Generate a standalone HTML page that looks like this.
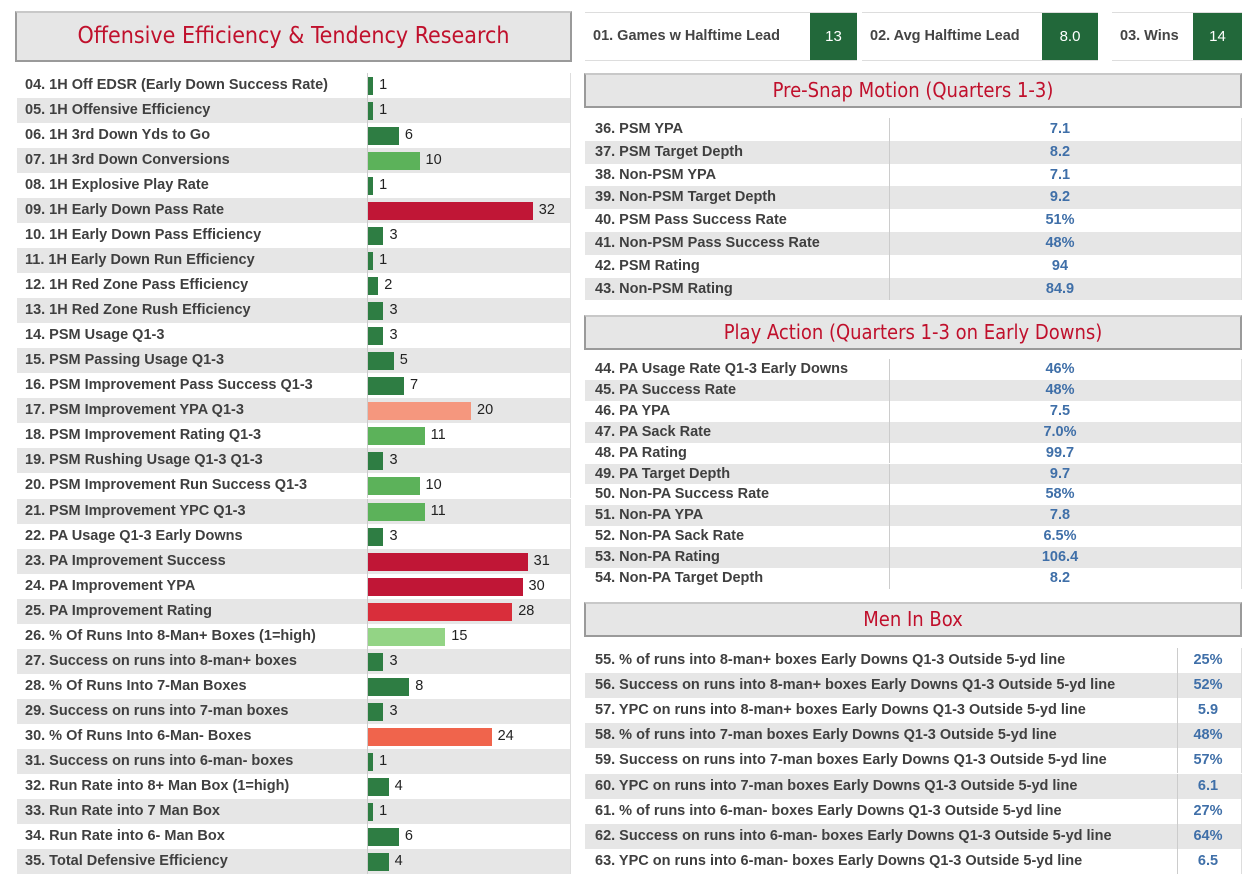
<!DOCTYPE html>
<html><head><meta charset="utf-8"><style>
*{box-sizing:border-box;margin:0;padding:0}
body{width:1254px;height:880px;background:#fff;font-family:"Liberation Sans",sans-serif;position:relative;overflow:hidden;color:#3f3f3f}
.abs{position:absolute}
.hdr{position:absolute;background:#e6e6e6;border:2px solid #9a9a9a;border-top-color:#c8c8c8;color:#c0102c;text-align:center;font-family:"DejaVu Sans Condensed","DejaVu Sans",sans-serif}
.row{position:absolute;font-weight:bold;font-size:14.5px;white-space:nowrap}
.kpi{position:absolute;top:12px;height:49px;border-top:1px solid #ddd;border-bottom:1px solid #ddd;font-weight:bold;font-size:14.5px;color:#444}
.kv{position:absolute;top:0;height:47px;background:#22683a;color:#fff;font-weight:normal;font-size:15px;text-align:center;line-height:47px}
.val{color:#3f6fa8;position:absolute;text-align:center}
</style></head><body>
<div class="hdr" style="left:15px;top:11px;width:557px;height:51px;font-size:23px;line-height:47px">Offensive Efficiency &amp; Tendency Research</div>

<div class="kpi" style="left:585px;width:272px"><span class="abs" style="left:8px;top:15px">01. Games w Halftime Lead</span><div class="kv" style="left:225px;width:47px">13</div></div>
<div class="kpi" style="left:862px;width:236px"><span class="abs" style="left:8px;top:15px">02. Avg Halftime Lead</span><div class="kv" style="left:180px;width:56px">8.0</div></div>
<div class="kpi" style="left:1112px;width:130px"><span class="abs" style="left:8px;top:15px">03. Wins</span><div class="kv" style="left:81px;width:49px">14</div></div>

<div id="left"></div>

<div class="hdr" style="left:584px;top:73px;width:658px;height:35px;font-size:20px;line-height:31px">Pre-Snap Motion (Quarters 1-3)</div>
<div id="psm"></div>
<div class="hdr" style="left:584px;top:315px;width:658px;height:35px;font-size:20px;line-height:31px">Play Action (Quarters 1-3 on Early Downs)</div>
<div id="pa"></div>
<div class="hdr" style="left:584px;top:602px;width:658px;height:35px;font-size:20px;line-height:31px">Men In Box</div>
<div id="mib"></div>

<script>
const labels=["04. 1H Off EDSR (Early Down Success Rate)","05. 1H Offensive Efficiency","06. 1H 3rd Down Yds to Go","07. 1H 3rd Down Conversions","08. 1H Explosive Play Rate","09. 1H Early Down Pass Rate","10. 1H Early Down Pass Efficiency","11. 1H Early Down Run Efficiency","12. 1H Red Zone Pass Efficiency","13. 1H Red Zone Rush Efficiency","14. PSM Usage Q1-3","15. PSM Passing Usage Q1-3","16. PSM Improvement Pass Success Q1-3","17. PSM Improvement YPA Q1-3","18. PSM Improvement Rating Q1-3","19. PSM Rushing Usage Q1-3 Q1-3","20. PSM Improvement Run Success Q1-3","21. PSM Improvement YPC Q1-3","22. PA Usage Q1-3 Early Downs","23. PA Improvement Success","24. PA Improvement YPA","25. PA Improvement Rating","26. % Of Runs Into 8-Man+ Boxes (1=high)","27. Success on runs into 8-man+ boxes","28. % Of Runs Into 7-Man Boxes","29. Success on runs into 7-man boxes","30. % Of Runs Into 6-Man- Boxes","31. Success on runs into 6-man- boxes","32. Run Rate into 8+ Man Box (1=high)","33. Run Rate into 7 Man Box","34. Run Rate into 6- Man Box","35. Total Defensive Efficiency"];
const ranks=[1,1,6,10,1,32,3,1,2,3,3,5,7,20,11,3,10,11,3,31,30,28,15,3,8,3,24,1,4,1,6,4];
const psmLabels=["36. PSM YPA","37. PSM Target Depth","38. Non-PSM YPA","39. Non-PSM Target Depth","40. PSM Pass Success Rate","41. Non-PSM Pass Success Rate","42. PSM Rating","43. Non-PSM Rating"];
const psmValues=["7.1","8.2","7.1","9.2","51%","48%","94","84.9"];
const paLabels=["44. PA Usage Rate Q1-3 Early Downs","45. PA Success Rate","46. PA YPA","47. PA Sack Rate","48. PA Rating","49. PA Target Depth","50. Non-PA Success Rate","51. Non-PA YPA","52. Non-PA Sack Rate","53. Non-PA Rating","54. Non-PA Target Depth"];
const paValues=["46%","48%","7.5","7.0%","99.7","9.7","58%","7.8","6.5%","106.4","8.2"];
const mibLabels=["55. % of runs into 8-man+ boxes Early Downs Q1-3 Outside 5-yd line","56. Success on runs into 8-man+ boxes Early Downs Q1-3 Outside 5-yd line","57. YPC on runs into 8-man+ boxes Early Downs Q1-3 Outside 5-yd line","58. % of runs into 7-man boxes Early Downs Q1-3 Outside 5-yd line","59. Success on runs into 7-man boxes Early Downs Q1-3 Outside 5-yd line","60. YPC on runs into 7-man boxes Early Downs Q1-3 Outside 5-yd line","61. % of runs into 6-man- boxes Early Downs Q1-3 Outside 5-yd line","62. Success on runs into 6-man- boxes Early Downs Q1-3 Outside 5-yd line","63. YPC on runs into 6-man- boxes Early Downs Q1-3 Outside 5-yd line"];
const mibValues=["25%","52%","5.9","48%","57%","6.1","27%","64%","6.5"];

function xScale(v){return v*5.15;}
function color(v){
 if(v<=8)return "#2e7d43";
 if(v<=12)return "#5cb25a";
 if(v<=16)return "#93d485";
 if(v<=21)return "#f5977e";
 if(v<=26)return "#f0644c";
 if(v<=29)return "#d92e3b";
 return "#c01636";
}
const L=document.getElementById('left');
const top0=73,rh=25.03;
labels.forEach((t,i)=>{
 const y=top0+i*rh;
 const r=document.createElement('div');
 
 
 r.className='row';
 r.style.cssText=`left:17px;top:${y}px;width:554px;height:${rh}px;line-height:${rh}px;background:${i%2?'#e6e6e6':'#fff'};border-right:1px solid #ddd`;
 r.innerHTML=`<span style="position:absolute;left:8px">${t}</span><span style="position:absolute;left:350px;top:0;height:100%;border-left:1px solid #ccc"></span>`;
 const b=document.createElement('div');
 
 
 const w=Math.max(5,xScale(ranks[i]));
 b.style.cssText=`position:absolute;left:351px;top:4px;height:${rh-7}px;width:${w}px;background:${color(ranks[i])}`;
 r.appendChild(b);
 const n=document.createElement('span');
 
 
 n.style.cssText=`position:absolute;left:${351+w+6}px;font-weight:normal;color:#222`;
 n.textContent=ranks[i];
 r.appendChild(n);
 L.appendChild(r);
});
function table(id,labs,vals,top,h,split,vc){
 const c=document.getElementById(id);
 labs.forEach((t,i)=>{
  const r=document.createElement('div');
  
  
  r.className='row';
  r.style.cssText=`left:585px;top:${top+i*h}px;width:657px;height:${h}px;line-height:${h}px;background:${i%2?'#e6e6e6':'#fff'};border-right:1px solid #ddd`;
  r.innerHTML=`<span style="position:absolute;left:10px">${t}</span><span style="position:absolute;left:${split}px;top:0;height:100%;border-left:1px solid #ccc"></span><span class="val" style="left:${vc-40}px;width:80px">${vals[i]}</span>`;
  c.appendChild(r);
 });
}
table('psm',psmLabels,psmValues,118,22.8,304,475);
table('pa',paLabels,paValues,359,20.9,304,475);
table('mib',mibLabels,mibValues,648,25.1,592,623);
</script>
</body></html>
